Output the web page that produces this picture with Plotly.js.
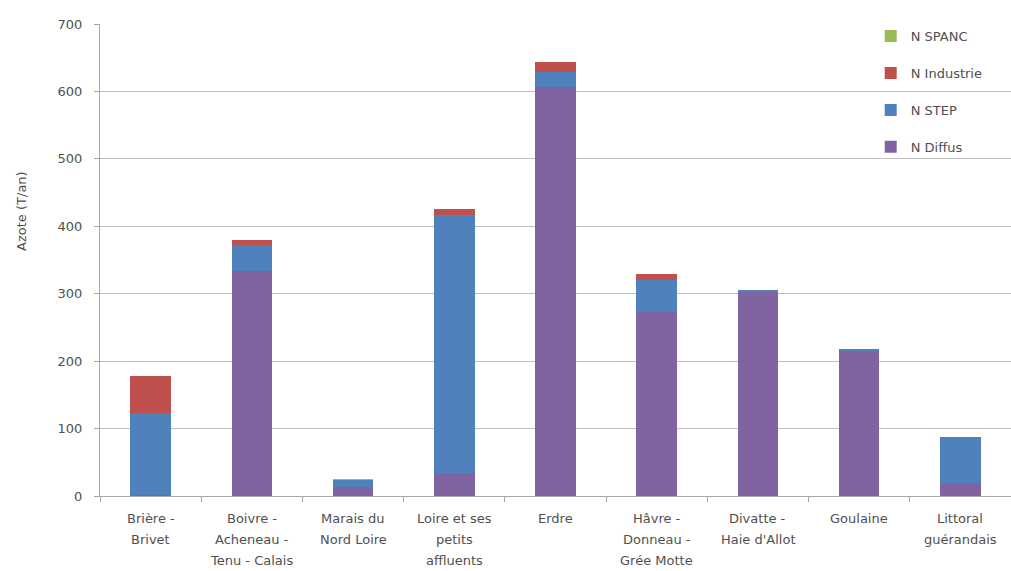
<!DOCTYPE html>
<html><head><meta charset="utf-8">
<script src="https://cdn.plot.ly/plotly-3.0.1.min.js"></script>
<style>body{margin:0;background:#fff}#c{width:1011px;height:571px}</style>
</head><body><div id="c"></div>
<script>
const categories = ["Brière -<br>Brivet", "Boivre -<br>Acheneau -<br>Tenu - Calais", "Marais du<br>Nord Loire", "Loire et ses<br>petits<br>affluents", "Erdre", "Hâvre -<br>Donneau -<br>Grée Motte", "Divatte -<br>Haie d'Allot", "Goulaine", "Littoral<br>guérandais"];
const nDiffus    = [2, 334, 14, 34, 607, 273, 303, 215, 19];
const nStep      = [121, 38, 9, 383, 22, 47, 3, 3, 68];
const nIndustrie = [55, 8, 0, 9, 15, 9, 0, 0, 0];
const nSpanc     = [0, 0, 2, 0, 0, 0, 0, 0, 0];
const yTicks = [0, 100, 200, 300, 400, 500, 600, 700];
const yTitle = "Azote (T/an)";

const FONT = "DejaVu Sans, Verdana, sans-serif";
const TXT = "#505050";

const series = [
  {name: "N Diffus", y: nDiffus, color: "#8064A2", rank: 4},
  {name: "N STEP", y: nStep, color: "#4F81BD", rank: 3},
  {name: "N Industrie", y: nIndustrie, color: "#C0504D", rank: 2},
  {name: "N SPANC", y: nSpanc, color: "#9BBB59", rank: 1}
];
const traces = series.map((s, i) => ({
  type: "bar", x: categories, y: s.y, name: s.name, legendgroup: "g" + i, legendrank: s.rank,
  marker: {color: s.color, line: {width: 0}}
}));

const annotations = [];
categories.forEach(c => {
  c.split("<br>").forEach((line, i) => {
    annotations.push({
      x: c, xref: "x", y: 0, yref: "paper", yanchor: "middle", xanchor: "center",
      yshift: -(22 + 21 * i), text: line, showarrow: false,
      font: {family: FONT, size: 13, color: TXT}
    });
  });
});
annotations.push({
  x: 0, xref: "paper", xshift: -78, y: 0.604, yref: "paper", yanchor: "middle", xanchor: "center",
  text: yTitle, textangle: -90, showarrow: false, font: {family: FONT, size: 13, color: TXT}
});

const layout = {
  width: 1011, height: 571,
  margin: {l: 100, r: 0, t: 24, b: 75},
  barmode: "stack", bargap: 0.6,
  paper_bgcolor: "#fff", plot_bgcolor: "#fff",
  font: {family: FONT, size: 13, color: TXT},
  xaxis: {
    showline: true, linecolor: "#A6A6A6", linewidth: 1,
    ticks: "outside", tickson: "boundaries", ticklen: 5, tickcolor: "#A6A6A6",
    showticklabels: false, automargin: false
  },
  yaxis: {
    range: [0, 700], tickvals: yTicks, ticktext: yTicks.map(String),
    showgrid: true, gridcolor: "#BFBFBF", gridwidth: 1,
    showline: true, linecolor: "#A6A6A6", ticks: "outside", ticklen: 5, tickcolor: "#A6A6A6",
    ticklabelstandoff: 9,
    tickfont: {family: FONT, size: 13, color: TXT}, zeroline: false,
    automargin: false
  },
  annotations: annotations,
  legend: {
    x: 0.846, xanchor: "left", y: 1.006, yanchor: "top",
    traceorder: "grouped", tracegroupgap: 17, itemwidth: 30,
    font: {family: FONT, size: 13, color: TXT}, bgcolor: "rgba(255,255,255,0)"
  },
  showlegend: true
};
Plotly.newPlot("c", traces, layout, {displayModeBar: false, staticPlot: true});
</script></body></html>
